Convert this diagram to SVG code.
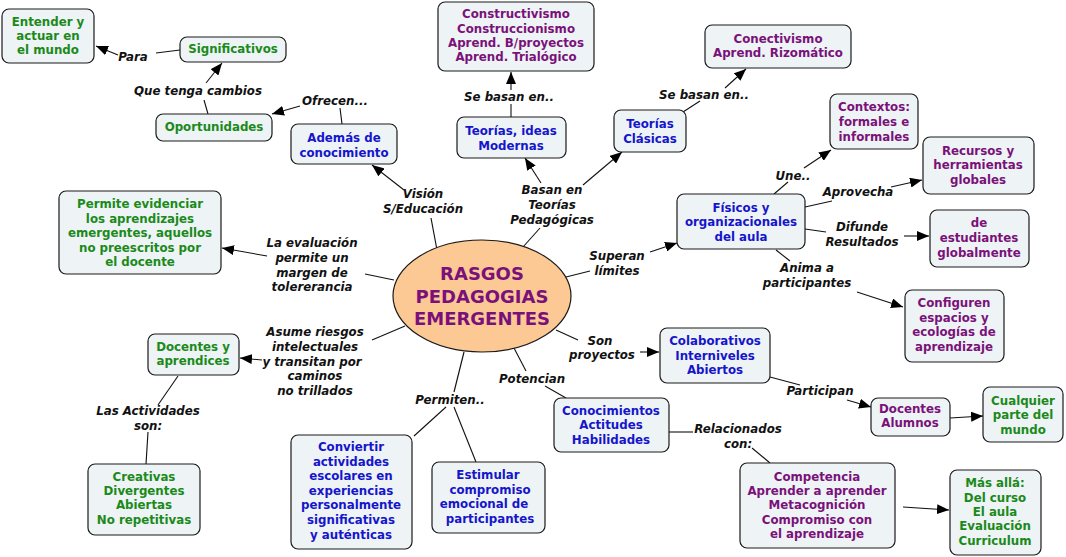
<svg xmlns="http://www.w3.org/2000/svg" width="1066" height="557" viewBox="0 0 1066 557">
<style>
  .box{fill:#eef3f5;stroke:#1a1a1a;stroke-width:1.2}
  text{font-family:Verdana,"DejaVu Sans",sans-serif;font-weight:bold;font-size:11.8px;text-anchor:middle}
  .g{fill:#1a8a1a}
  .b{fill:#1515cc}
  .p{fill:#7a117a}
  .lbl{fill:#111;font-style:italic}
  .c{stroke:#111;stroke-width:1.1;fill:none}
  .a{marker-end:url(#ah)}
</style>
<defs>
  <marker id="ah" viewBox="0 0 12 10" refX="12" refY="5" markerWidth="12" markerHeight="10" markerUnits="userSpaceOnUse" orient="auto">
    <path d="M0,0 L12,5 L0,10 Z" fill="#000"/>
  </marker>
</defs>
<rect width="1066" height="557" fill="#fff"/>

<g id="connectors">
  <path class="c" d="M180,50 L156,53"/>
  <path class="c a" d="M118,55 L96,46"/>
  <path class="c" d="M208,114 L204,100"/>
  <path class="c a" d="M206,83 L222,63"/>
  <path class="c" d="M342,124 L340,108"/>
  <path class="c a" d="M300,106 L272,114"/>
  <path class="c" d="M437,250 L431,218"/>
  <path class="c a" d="M404,190 L372,165"/>
  <path class="c" d="M511,117 L511,104"/>
  <path class="c a" d="M511,90 L511,72"/>
  <path class="c" d="M523,247 L540,228"/>
  <path class="c a" d="M541,183 L525,158"/>
  <path class="c a" d="M583,185 L622,152"/>
  <path class="c" d="M683,112 L700,101"/>
  <path class="c a" d="M725,88 L746,69"/>
  <path class="c" d="M566,277 L590,271"/>
  <path class="c a" d="M650,252 L677,243"/>
  <path class="c" d="M774,194 L788,182"/>
  <path class="c a" d="M804,168 L831,150"/>
  <path class="c" d="M805,207 L832,201"/>
  <path class="c a" d="M891,187 L922,180"/>
  <path class="c" d="M805,229 L826,232"/>
  <path class="c a" d="M904,236 L929,236"/>
  <path class="c" d="M776,250 L790,261"/>
  <path class="c a" d="M857,292 L903,307"/>
  <path class="c" d="M394,280 L365,274"/>
  <path class="c a" d="M267,256 L222,248"/>
  <path class="c" d="M405,326 L372,340"/>
  <path class="c a" d="M262,360 L240,358"/>
  <path class="c" d="M178,376 L158,405"/>
  <path class="c" d="M148,432 L146,464"/>
  <path class="c" d="M464,352 L454,392"/>
  <path class="c" d="M446,407 L414,436"/>
  <path class="c" d="M454,407 L476,462"/>
  <path class="c" d="M514,348 L526,371"/>
  <path class="c" d="M545,386 L566,398"/>
  <path class="c" d="M556,330 L578,340"/>
  <path class="c a" d="M640,352 L659,352"/>
  <path class="c" d="M770,377 L800,385"/>
  <path class="c a" d="M847,400 L871,407"/>
  <path class="c a" d="M950,418 L983,416"/>
  <path class="c" d="M669,432 L693,432"/>
  <path class="c" d="M752,448 L770,463"/>
  <path class="c a" d="M903,507 L949,510"/>
</g>

<g id="labels">
  <text class="lbl" x="133" y="61">Para</text>
  <text class="lbl" x="198" y="95">Que tenga cambios</text>
  <text class="lbl" x="335" y="105">Ofrecen...</text>
  <text class="lbl" x="423" y="198">Visión</text>
  <text class="lbl" x="423" y="213">S/Educación</text>
  <text class="lbl" x="509" y="101">Se basan en..</text>
  <text class="lbl" x="552" y="194">Basan en</text>
  <text class="lbl" x="552" y="209">Teorías</text>
  <text class="lbl" x="552" y="224">Pedagógicas</text>
  <text class="lbl" x="704" y="99">Se basan en..</text>
  <text class="lbl" x="617" y="260">Superan</text>
  <text class="lbl" x="617" y="275">límites</text>
  <text class="lbl" x="793" y="180">Une..</text>
  <text class="lbl" x="858" y="196">Aprovecha</text>
  <text class="lbl" x="862" y="231">Difunde</text>
  <text class="lbl" x="862" y="246">Resultados</text>
  <text class="lbl" x="807" y="272">Anima a</text>
  <text class="lbl" x="807" y="287">participantes</text>
  <text class="lbl" x="312" y="247">La evaluación</text>
  <text class="lbl" x="312" y="262">permite un</text>
  <text class="lbl" x="312" y="277">margen de</text>
  <text class="lbl" x="312" y="291">tolererancia</text>
  <text class="lbl" x="315" y="336">Asume riesgos</text>
  <text class="lbl" x="315" y="351">intelectuales</text>
  <text class="lbl" x="312" y="366">y transitan por</text>
  <text class="lbl" x="315" y="380">caminos</text>
  <text class="lbl" x="315" y="395">no trillados</text>
  <text class="lbl" x="148" y="415">Las Actividades</text>
  <text class="lbl" x="148" y="430">son:</text>
  <text class="lbl" x="450" y="404">Permiten..</text>
  <text class="lbl" x="532" y="383">Potencian</text>
  <text class="lbl" x="600" y="345">Son</text>
  <text class="lbl" x="602" y="359">proyectos</text>
  <text class="lbl" x="820" y="395">Participan</text>
  <text class="lbl" x="738" y="433">Relacionados</text>
  <text class="lbl" x="738" y="448">con:</text>
</g>

<g id="center">
  <ellipse cx="482" cy="296" rx="89" ry="56" fill="#fcc994" stroke="#1a1a1a" stroke-width="1.2"/>
  <text class="p" x="482" y="280" style="font-size:18px">RASGOS</text>
  <text class="p" x="482" y="303" style="font-size:18px">PEDAGOGIAS</text>
  <text class="p" x="482" y="325" style="font-size:18px">EMERGENTES</text>
</g>

<g id="n-entender"><rect class="box" x="2" y="9" width="92" height="54" rx="7"/>
  <text class="g" x="48" y="26">Entender y</text><text class="g" x="48" y="40">actuar en</text><text class="g" x="48" y="54">el mundo</text></g>
<g id="n-significativos"><rect class="box" x="180" y="37" width="106" height="25" rx="7"/>
  <text class="g" x="233" y="53">Significativos</text></g>
<g id="n-oportunidades"><rect class="box" x="156" y="114" width="116" height="27" rx="7"/>
  <text class="g" x="214" y="131">Oportunidades</text></g>
<g id="n-ademas"><rect class="box" x="291" y="124" width="106" height="40" rx="7"/>
  <text class="b" x="344" y="142">Además de</text><text class="b" x="344" y="157">conocimiento</text></g>
<g id="n-constructivismo"><rect class="box" x="438" y="2" width="156" height="69" rx="7"/>
  <text class="p" x="516" y="18">Constructivismo</text><text class="p" x="516" y="33">Construccionismo</text><text class="p" x="516" y="47">Aprend. B/proyectos</text><text class="p" x="516" y="61">Aprend. Trialógico</text></g>
<g id="n-modernas"><rect class="box" x="457" y="117" width="109" height="41" rx="7"/>
  <text class="b" x="511" y="135">Teorías, ideas</text><text class="b" x="511" y="150">Modernas</text></g>
<g id="n-conectivismo"><rect class="box" x="705" y="25" width="146" height="43" rx="7"/>
  <text class="p" x="778" y="43">Conectivismo</text><text class="p" x="778" y="57">Aprend. Rizomático</text></g>
<g id="n-clasicas"><rect class="box" x="614" y="110" width="72" height="42" rx="7"/>
  <text class="b" x="650" y="128">Teorías</text><text class="b" x="650" y="143">Clásicas</text></g>
<g id="n-contextos"><rect class="box" x="830" y="94" width="88" height="55" rx="7"/>
  <text class="p" x="874" y="111">Contextos:</text><text class="p" x="874" y="126">formales e</text><text class="p" x="874" y="141">informales</text></g>
<g id="n-recursos"><rect class="box" x="923" y="137" width="111" height="57" rx="7"/>
  <text class="p" x="978" y="155">Recursos y</text><text class="p" x="978" y="169">herramientas</text><text class="p" x="978" y="184">globales</text></g>
<g id="n-fisicos"><rect class="box" x="677" y="194" width="128" height="55" rx="7"/>
  <text class="b" x="741" y="212">Físicos y</text><text class="b" x="741" y="226">organizacionales</text><text class="b" x="741" y="241">del aula</text></g>
<g id="n-estudiantes"><rect class="box" x="930" y="210" width="99" height="57" rx="7"/>
  <text class="p" x="979" y="227">de</text><text class="p" x="979" y="242">estudiantes</text><text class="p" x="979" y="257">globalmente</text></g>
<g id="n-configuren"><rect class="box" x="905" y="290" width="99" height="72" rx="7"/>
  <text class="p" x="954" y="307">Configuren</text><text class="p" x="954" y="322">espacios y</text><text class="p" x="954" y="336">ecologías de</text><text class="p" x="954" y="351">aprendizaje</text></g>
<g id="n-permite"><rect class="box" x="59" y="191" width="162" height="83" rx="7"/>
  <text class="g" x="140" y="208">Permite evidenciar</text><text class="g" x="140" y="223">los aprendizajes</text><text class="g" x="140" y="237">emergentes, aquellos</text><text class="g" x="140" y="252">no preescritos por</text><text class="g" x="140" y="266">el docente</text></g>
<g id="n-docentes-aprendices"><rect class="box" x="148" y="334" width="91" height="41" rx="7"/>
  <text class="g" x="193" y="351">Docentes y</text><text class="g" x="193" y="365">aprendices</text></g>
<g id="n-creativas"><rect class="box" x="88" y="464" width="112" height="71" rx="7"/>
  <text class="g" x="144" y="481">Creativas</text><text class="g" x="144" y="495">Divergentes</text><text class="g" x="144" y="509">Abiertas</text><text class="g" x="144" y="524">No repetitivas</text></g>
<g id="n-conviertir"><rect class="box" x="291" y="435" width="121" height="114" rx="7"/>
  <text class="b" x="351" y="451">Conviertir</text><text class="b" x="351" y="466">actividades</text><text class="b" x="351" y="480">escolares en</text><text class="b" x="351" y="495">experiencias</text><text class="b" x="351" y="509">personalmente</text><text class="b" x="351" y="524">significativas</text><text class="b" x="351" y="539">y auténticas</text></g>
<g id="n-estimular"><rect class="box" x="432" y="462" width="113" height="71" rx="7"/>
  <text class="b" x="488" y="479">Estimular</text><text class="b" x="490" y="494">compromiso</text><text class="b" x="484" y="508">emocional de</text><text class="b" x="490" y="523">participantes</text></g>
<g id="n-conocimientos"><rect class="box" x="554" y="398" width="115" height="54" rx="7"/>
  <text class="b" x="611" y="415">Conocimientos</text><text class="b" x="611" y="429">Actitudes</text><text class="b" x="611" y="444">Habilidades</text></g>
<g id="n-colaborativos"><rect class="box" x="660" y="328" width="110" height="55" rx="7"/>
  <text class="b" x="715" y="345">Colaborativos</text><text class="b" x="715" y="360">Interniveles</text><text class="b" x="715" y="374">Abiertos</text></g>
<g id="n-docentes-alumnos"><rect class="box" x="871" y="398" width="79" height="38" rx="7"/>
  <text class="p" x="910" y="413">Docentes</text><text class="p" x="910" y="427">Alumnos</text></g>
<g id="n-cualquier"><rect class="box" x="983" y="387" width="80" height="55" rx="7"/>
  <text class="g" x="1023" y="405">Cualquier</text><text class="g" x="1023" y="419">parte del</text><text class="g" x="1023" y="434">mundo</text></g>
<g id="n-competencia"><rect class="box" x="740" y="463" width="155" height="85" rx="7"/>
  <text class="p" x="817" y="481">Competencia</text><text class="p" x="817" y="495">Aprender a aprender</text><text class="p" x="817" y="509">Metacognición</text><text class="p" x="817" y="524">Compromiso con</text><text class="p" x="817" y="538">el aprendizaje</text></g>
<g id="n-masalla"><rect class="box" x="950" y="470" width="91" height="85" rx="7"/>
  <text class="g" x="995" y="487">Más allá:</text><text class="g" x="995" y="502">Del curso</text><text class="g" x="995" y="516">El aula</text><text class="g" x="995" y="530">Evaluación</text><text class="g" x="995" y="545">Curriculum</text></g>
</svg>
